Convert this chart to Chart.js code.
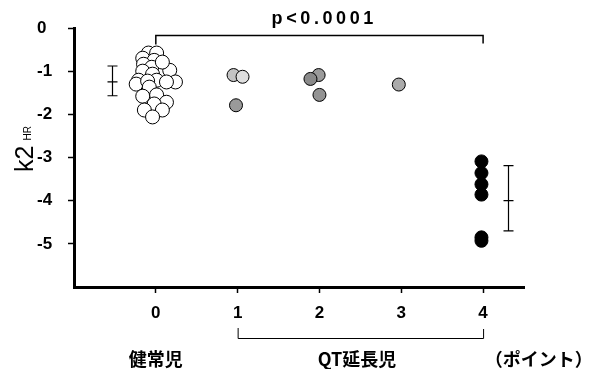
<!DOCTYPE html>
<html>
<head>
<meta charset="utf-8">
<script src="https://cdn.jsdelivr.net/npm/chart.js@4"></script>
<style>
  html, body { margin: 0; padding: 0; background: #fff; }
  #wrap { width: 595px; height: 369px; }
</style>
</head>
<body>
<div id="wrap"><canvas id="chart" width="595" height="369"></canvas></div>
<script>
// ── Data ──
const X_TICKS = [0, 1, 2, 3, 4];
const Y_TICKS = [0, -1, -2, -3, -4, -5];

// healthy children (0 points), spread sideways around x = 0
const NORMAL_X = [-0.09, 0.01, -0.16, -0.02, -0.15, -0.05, 0.17, -0.16, -0.04, -0.21, -0.24, 0.01, -0.10,
                  0.24, -0.08, -0.16, 0.01, 0.13, -0.02, -0.14, 0.08, -0.04, 0.08, 0.13];
const NORMAL_Y = [-0.58, -0.58, -0.70, -0.75, -0.84, -0.91, -0.98, -1.00, -1.07, -1.21, -1.30, -1.21, -1.23,
                  -1.25, -1.37, -1.58, -1.55, -1.72, -1.76, -1.90, -1.90, -2.06, -0.79, -1.25];

// long-QT children by score
const QT1_X = [0.95, 1.06, 0.98];
const QT1_Y = [-1.09, -1.13, -1.79];
const QT2_X = [1.99, 1.89, 2.00];
const QT2_Y = [-1.09, -1.18, -1.55];
const QT3_X = [2.97];
const QT3_Y = [-1.31];
const QT4_X = [3.98, 3.98, 3.98, 3.98, 3.98, 3.98];
const QT4_Y = [-3.09, -3.36, -3.62, -3.86, -4.85, -4.93];

// mean ± SD bars
const ERR_X    = [-0.53, 4.31];
const ERR_MEAN = [-1.25, -4.00];
const ERR_HIGH = [-0.88, -3.19];
const ERR_LOW  = [-1.57, -4.70];

// annotations
const SIG_TEXT = 'p<0.0001';
const SIG_FROM = 0, SIG_TO = 4, SIG_Y = -0.17;
const QT_FROM = 1, QT_TO = 4;
const GROUP_LABELS = ['健常児', 'QT延長児', '（ポイント）'];
const GROUP_POS    = [0, 2.46, 4.68];

const pts = (xs, ys) => xs.map((x, i) => ({ x, y: ys[i] }));

// ── Annotation plugin ──
const annotations = {
  id: 'annotations',
  afterDatasetsDraw(chart) {
    const { ctx, scales: { x, y } } = chart;
    ctx.save();
    ctx.strokeStyle = '#000';
    ctx.fillStyle = '#000';

    // error bars
    ctx.lineWidth = 1.2;
    ERR_X.forEach((v, i) => {
      const px = Math.round(x.getPixelForValue(v)) + 0.5;
      const hi = y.getPixelForValue(ERR_HIGH[i]);
      const lo = y.getPixelForValue(ERR_LOW[i]);
      const m  = y.getPixelForValue(ERR_MEAN[i]);
      ctx.beginPath();
      ctx.moveTo(px, hi); ctx.lineTo(px, lo);
      [hi, m, lo].forEach(py => { ctx.moveTo(px - 5, py); ctx.lineTo(px + 5, py); });
      ctx.stroke();
    });

    // significance bracket + text
    const sx1 = x.getPixelForValue(SIG_FROM), sx2 = x.getPixelForValue(SIG_TO);
    const sy = Math.round(y.getPixelForValue(SIG_Y)) + 0.5;
    ctx.lineWidth = 1.5;
    ctx.beginPath();
    ctx.moveTo(sx1, sy + 9); ctx.lineTo(sx1, sy); ctx.lineTo(sx2, sy); ctx.lineTo(sx2, sy + 8);
    ctx.stroke();

    ctx.font = 'bold 18px "Liberation Sans", Arial, sans-serif';
    ctx.textBaseline = 'alphabetic';
    ctx.textAlign = 'left';
    const gap = 3.6;
    const chars = SIG_TEXT.split('');
    const total = chars.reduce((s, c) => s + ctx.measureText(c).width, 0) + gap * (chars.length - 1);
    let cx = (sx1 + sx2) / 2 + 3 - total / 2;
    chars.forEach(c => { ctx.fillText(c, cx, 24); cx += ctx.measureText(c).width + gap; });

    // long-QT bracket under the axis
    const qx1 = x.getPixelForValue(QT_FROM), qx2 = x.getPixelForValue(QT_TO);
    ctx.lineWidth = 1;
    ctx.beginPath();
    ctx.moveTo(qx1 + 0.5, 328); ctx.lineTo(qx1 + 0.5, 338.5); ctx.lineTo(qx2 + 0.5, 338.5); ctx.lineTo(qx2 + 0.5, 329);
    ctx.stroke();

    // group labels
    ctx.font = 'bold 18px "Noto Sans CJK JP", sans-serif';
    ctx.textAlign = 'center';
    ctx.textBaseline = 'middle';
    GROUP_LABELS.forEach((t, i) => ctx.fillText(t, x.getPixelForValue(GROUP_POS[i]), 359));

    // y axis title k2 with subscript HR
    ctx.translate(33, 172);
    ctx.rotate(-Math.PI / 2);
    ctx.textAlign = 'left';
    ctx.textBaseline = 'alphabetic';
    ctx.font = '25px "Liberation Sans", Arial, sans-serif';
    ctx.fillText('k2', 0, 0);
    const w = ctx.measureText('k2').width;
    ctx.font = '10px "Liberation Sans", Arial, sans-serif';
    ctx.fillText('HR', w + 5, -2);

    ctx.restore();
  }
};

// ── Chart ──
const pointStyle = (bg, extra = {}) => ({
  pointRadius: 6.5, pointBorderWidth: 1, pointBorderColor: '#000',
  pointBackgroundColor: bg, showLine: false, ...extra
});

new Chart(document.getElementById('chart'), {
  type: 'scatter',
  data: {
    datasets: [
      { data: pts(NORMAL_X, NORMAL_Y), ...pointStyle('#fff', { pointRadius: 7 }) },
      { data: pts(QT1_X, QT1_Y), ...pointStyle(['#c4c4c4', '#dedede', '#9a9a9a']) },
      { data: pts(QT2_X, QT2_Y), ...pointStyle(['#9a9a9a', '#8a8a8a', '#939393']) },
      { data: pts(QT3_X, QT3_Y), ...pointStyle('#ababab') },
      { data: pts(QT4_X, QT4_Y), ...pointStyle('#000') },
    ],
  },
  options: {
    responsive: false,
    animation: false,
    devicePixelRatio: 1,
    layout: { padding: { left: 37, top: 28, right: 71, bottom: 0 } },
    plugins: { legend: { display: false }, tooltip: { enabled: false } },
    scales: {
      x: {
        type: 'linear', min: -1, max: 4.5,
        afterBuildTicks: s => { s.ticks = X_TICKS.map(v => ({ value: v })); },
        afterFit: s => { s.height = 82; },
        border: { color: '#000', width: 3 },
        grid: { drawOnChartArea: false, color: '#000', tickLength: 6, tickWidth: 1.5 },
        ticks: {
          color: '#000', padding: 10, maxRotation: 0,
          font: { family: '"Liberation Sans", Arial, sans-serif', size: 17, weight: 'bold' },
          callback: v => String(v),
        },
      },
      y: {
        type: 'linear', min: -6, max: 0,
        afterBuildTicks: s => { s.ticks = Y_TICKS.map(v => ({ value: v })); },
        afterFit: s => { s.width = 37; },
        border: { color: '#000', width: 3 },
        grid: { drawOnChartArea: false, color: '#000', tickLength: 6, tickWidth: 1.5 },
        ticks: {
          color: '#000', crossAlign: 'far',
          font: { family: '"Liberation Sans", Arial, sans-serif', size: 17, weight: 'bold' },
          callback: v => String(v),
        },
      },
    },
  },
  plugins: [annotations],
});
</script>
</body>
</html>
